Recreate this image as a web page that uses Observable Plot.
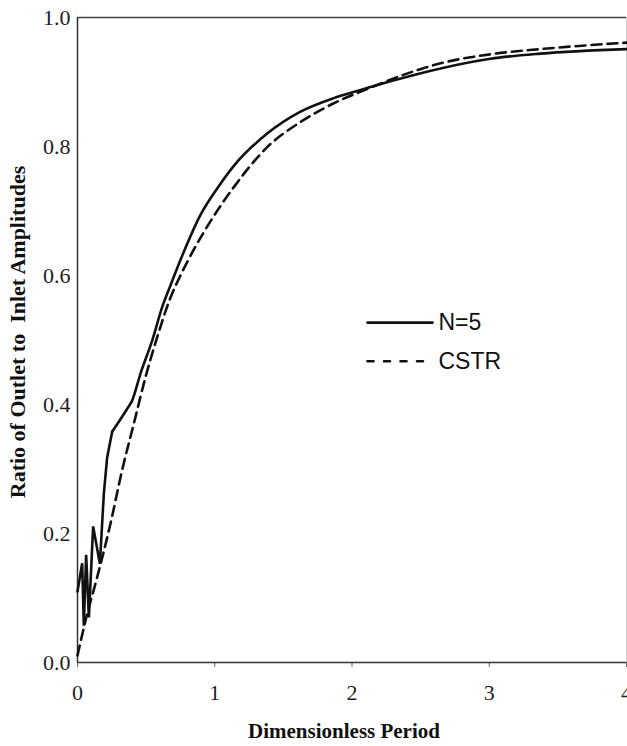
<!DOCTYPE html>
<html>
<head>
<meta charset="utf-8">
<script src="https://cdn.jsdelivr.net/npm/d3@7"></script>
<script src="https://cdn.jsdelivr.net/npm/@observablehq/plot@0.6"></script>
<style>
  body { margin: 0; background: #fff; }
</style>
</head>
<body>
<div id="chart"></div>
<script>
// N=5 model
const n5X = [0, 0.034, 0.046, 0.063, 0.083, 0.114, 0.163, 0.192, 0.216, 0.253, 0.361, 0.398, 0.459, 0.544, 0.617, 0.678, 0.775, 0.896, 1.018, 1.139, 1.382, 1.625, 1.867, 2.038, 2.28, 2.645, 3.009, 3.373, 4.0];
const n5Y = [0.110, 0.154, 0.057, 0.167, 0.070, 0.211, 0.153, 0.262, 0.318, 0.358, 0.393, 0.406, 0.448, 0.499, 0.551, 0.585, 0.637, 0.694, 0.735, 0.770, 0.820, 0.854, 0.875, 0.886, 0.901, 0.921, 0.936, 0.944, 0.951];
// CSTR
const cstrX = [0, 0.07, 0.143, 0.24, 0.325, 0.41, 0.495, 0.580, 0.678, 0.750, 0.847, 0.957, 1.139, 1.382, 1.625, 1.867, 2.11, 2.40, 2.645, 3.009, 3.373, 4.0];
const cstrY = [0.011, 0.075, 0.132, 0.215, 0.298, 0.370, 0.442, 0.504, 0.566, 0.600, 0.640, 0.680, 0.737, 0.799, 0.838, 0.867, 0.889, 0.913, 0.929, 0.943, 0.951, 0.961];

const xTicks = [0, 1, 2, 3, 4];
const yTicks = [0, 0.2, 0.4, 0.6, 0.8, 1.0];

const legendNames = ["N=5", "CSTR"];
const legendY = [0.527, 0.467];
const legendX = [2.113, 2.587];
const legendTextX = 2.63;

const n5 = n5X.map((x, i) => ({x, y: n5Y[i]}));
const cstr = cstrX.map((x, i) => ({x, y: cstrY[i]}));
// the oscillating start is drawn as straight segments, the smooth remainder as a curve
const n5Start = n5.filter(d => d.x <= 0.253);
const n5Rest = n5.filter(d => d.x >= 0.253);

const legendLine = i => legendX.map(x => ({x, y: legendY[i]}));

const plot = Plot.plot({
  width: 627,
  height: 746,
  marginLeft: 77,
  marginTop: 17,
  marginBottom: 84,
  marginRight: 1,
  style: {fontFamily: "Liberation Serif, Times New Roman, serif", fontSize: "22px", color: "#222", background: "#fff", overflow: "visible"},
  x: {domain: [0, 4], ticks: xTicks, label: null},
  y: {domain: [0, 1], ticks: yTicks, label: null},
  marks: [
    Plot.axisX({ticks: xTicks, tickSize: 5, tickPadding: 17, tickFormat: d3.format("d"), label: null, stroke: "#666", fontSize: 22, fill: "#222"}),
    Plot.axisY({ticks: yTicks, tickSize: 0, tickPadding: 7, tickFormat: d3.format(".1f"), label: null, fontSize: 22, fill: "#222"}),
    Plot.ruleX([4], {stroke: "#ccc", strokeWidth: 1}),
    Plot.ruleY([1], {stroke: "#444", strokeWidth: 1.5}),
    Plot.ruleY([0], {stroke: "#333", strokeWidth: 1.5}),
    Plot.ruleX([0], {stroke: "#333", strokeWidth: 1.5}),
    Plot.line(cstr, {x: "x", y: "y", stroke: "#111", strokeWidth: 2.6, strokeDasharray: "10,6", curve: "monotone-x"}),
    Plot.line(n5Start, {x: "x", y: "y", stroke: "#111", strokeWidth: 2.6, curve: "linear", strokeLinejoin: "miter"}),
    Plot.line(n5Rest, {x: "x", y: "y", stroke: "#111", strokeWidth: 2.6, curve: "monotone-x"}),
    Plot.line(legendLine(0), {x: "x", y: "y", stroke: "#111", strokeWidth: 2.6}),
    Plot.line(legendLine(1), {x: "x", y: "y", stroke: "#111", strokeWidth: 2.6, strokeDasharray: "6,10.5"}),
    Plot.text(legendNames, {x: () => legendTextX, y: (d, i) => legendY[i], text: d => d, textAnchor: "start",
      fontFamily: "Liberation Sans, Arial, sans-serif", fontSize: 23, fill: "#111"}),
    Plot.text(["Dimensionless Period"], {frameAnchor: "bottom", dx: -8, dy: 75, fontWeight: "bold", fontSize: 21, fill: "#111"}),
    Plot.text(["Ratio of Outlet to  Inlet Amplitudes"], {frameAnchor: "left", textAnchor: "middle", dx: -60, dy: -8, rotate: -90, fontWeight: "bold", fontSize: 22, fill: "#111"})
  ]
});
document.getElementById("chart").appendChild(plot);
</script>
</body>
</html>
